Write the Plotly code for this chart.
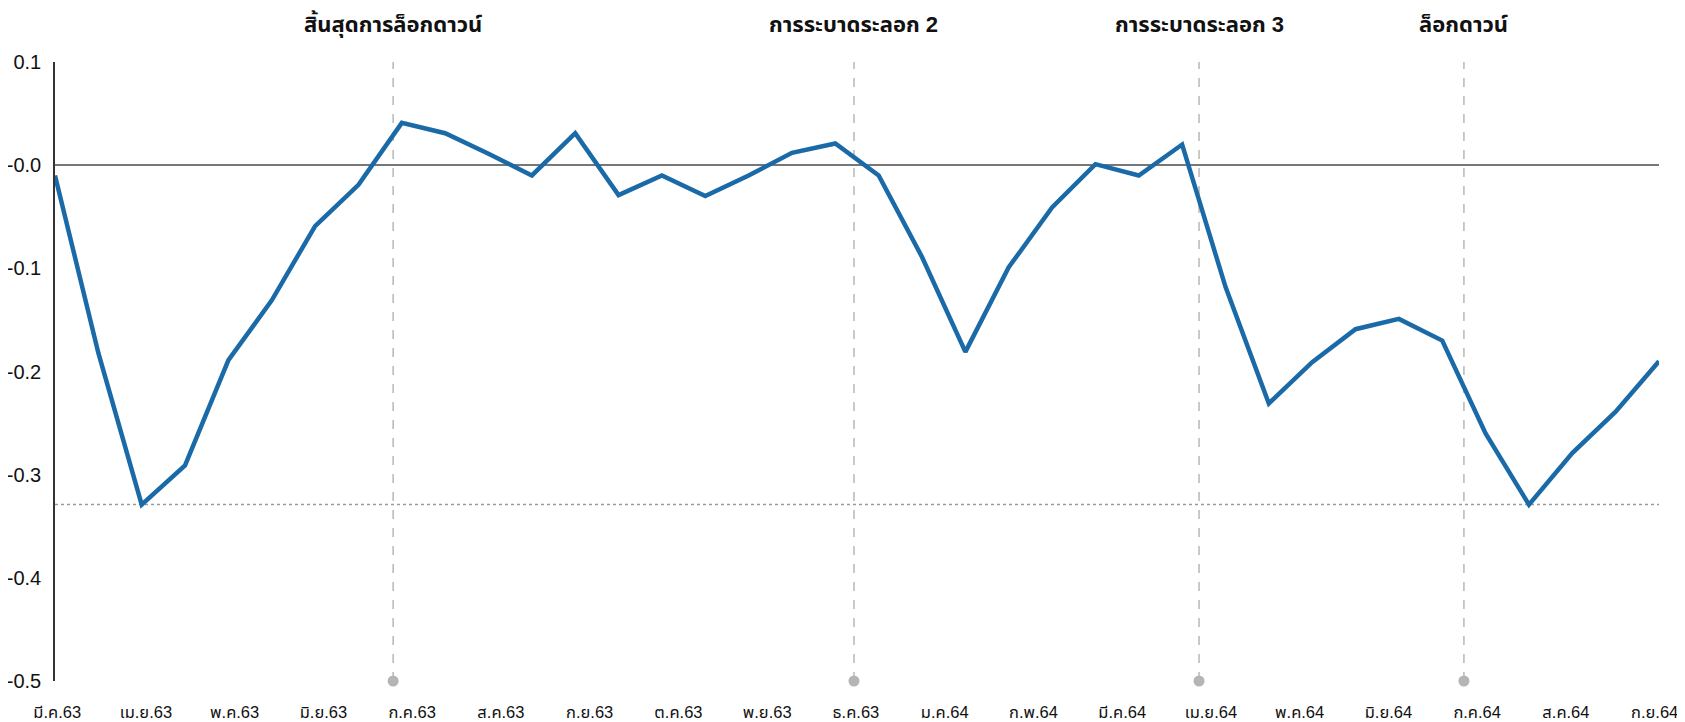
import numpy as np
import plotly.graph_objects as go

# semi-monthly index, มี.ค.63 .. ก.ย.64
VALUES = [
    -0.010, -0.182, -0.329, -0.291, -0.189, -0.131, -0.059, -0.019, 0.041, 0.031,
    0.011, -0.010, 0.031, -0.029, -0.010, -0.030, -0.010, 0.012, 0.021, -0.010,
    -0.089, -0.181, -0.099, -0.041, 0.001, -0.010, 0.020, -0.118, -0.231, -0.191,
    -0.159, -0.149, -0.170, -0.260, -0.329, -0.279, -0.239, -0.190,
]
MONTHS = [
    "มี.ค.63", "เม.ย.63", "พ.ค.63", "มิ.ย.63", "ก.ค.63", "ส.ค.63", "ก.ย.63",
    "ต.ค.63", "พ.ย.63", "ธ.ค.63", "ม.ค.64", "ก.พ.64", "มี.ค.64", "เม.ย.64",
    "พ.ค.64", "มิ.ย.64", "ก.ค.64", "ส.ค.64", "ก.ย.64",
]
EVENT_LABELS = ["สิ้นสุดการล็อกดาวน์", "การระบาดระลอก 2", "การระบาดระลอก 3", "ล็อกดาวน์"]
EVENT_X = [7.8, 18.43, 26.39, 32.5]
Y_TICKS = [0.1, 0.0, -0.1, -0.2, -0.3, -0.4, -0.5]
Y_TICK_TEXT = ["0.1", "-0.0", "-0.1", "-0.2", "-0.3", "-0.4", "-0.5"]

FONT = "Liberation Sans, Arial, Noto Sans Thai, sans-serif"
x = list(range(len(VALUES)))
last = len(VALUES) - 1

fig = go.Figure()

# low-water mark
fig.add_shape(type="line", xref="x", yref="y", x0=0, x1=last,
              y0=min(VALUES), y1=min(VALUES),
              line=dict(color="#9a9a9a", width=1.5, dash="dot"), layer="below")

for ex, label in zip(EVENT_X, EVENT_LABELS):
    fig.add_shape(type="line", xref="x", yref="paper", x0=ex, x1=ex, y0=0, y1=1,
                  line=dict(color="#b8b8b8", width=1.5, dash="dash"), layer="below")
    fig.add_annotation(x=ex, xref="x", y=1, yref="paper", yshift=38,
                       yanchor="middle", showarrow=False, text=f"<b>{label}</b>",
                       font=dict(size=22, color="#111", family=FONT))

fig.add_trace(go.Scatter(x=EVENT_X, y=[-0.5] * len(EVENT_X), mode="markers",
                         marker=dict(size=11, color="#b5b5b5"), cliponaxis=False,
                         hoverinfo="skip"))

fig.add_trace(go.Scatter(x=x, y=VALUES, mode="lines",
                         line=dict(color="#1b6aa8", width=4.5), hoverinfo="y"))

# the page body adds an 8px margin, so the figure is sized a little under the window
fig.update_layout(
    width=1677, height=714,
    margin=dict(l=47, r=26, t=54, b=41),
    plot_bgcolor="white", paper_bgcolor="white",
    showlegend=False,
    font=dict(family=FONT, size=17, color="#111"),
)
# month labels are spread evenly over the span of the series
fig.update_xaxes(
    range=[0, last], showgrid=False, zeroline=False, showline=False, automargin=False,
    tickvals=list(np.linspace(0.05, last - 0.1, len(MONTHS))), ticktext=MONTHS,
    ticks="", ticklabelstandoff=19, tickfont=dict(size=16.5),
)
fig.update_yaxes(
    range=[-0.5, 0.1], showgrid=False, showline=True, linecolor="#333", linewidth=1.5,
    zeroline=True, zerolinecolor="#777", zerolinewidth=2, automargin=False,
    tickvals=Y_TICKS, ticktext=Y_TICK_TEXT, ticks="", ticklabelstandoff=8,
    tickfont=dict(size=20),
)

fig.write_html("out.html")
